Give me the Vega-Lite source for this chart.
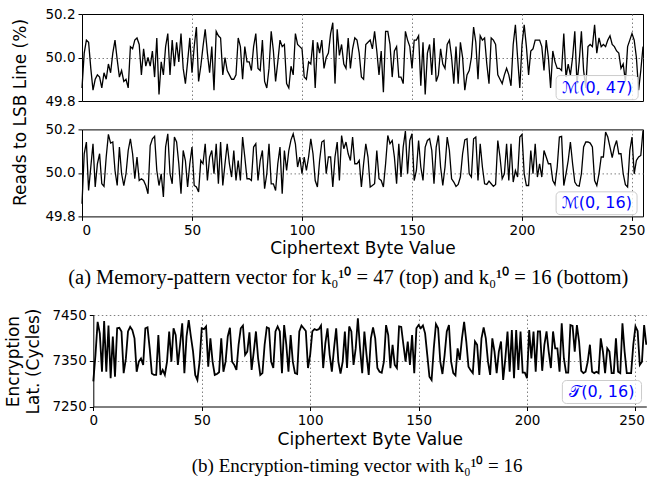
{
"$schema": "https://vega.github.io/schema/vega-lite/v6.json",
"padding": {"left": 4, "top": 6, "right": 0, "bottom": 0},
"background": "white",
"config": {
 "font": "DejaVu Sans",
 "view": {"stroke": "black", "strokeWidth": 1},
 "axis": {"labelFont": "DejaVu Sans", "titleFont": "DejaVu Sans", "labelFontSize": 13.5, "titleFontSize": 17, "titleFontWeight": "normal", "labelColor": "black", "titleColor": "black", "tickColor": "black", "domainColor": "black", "tickSize": 4, "labelPadding": 3, "gridColor": "#808080", "gridDash": [1.5, 2.5], "gridWidth": 1}
},
"datasets": {
"m47": [{"x":0,"y":49.86},{"x":1,"y":50.02},{"x":2,"y":50.08},{"x":3,"y":50.07},{"x":4,"y":49.95},{"x":5,"y":49.85},{"x":6,"y":49.90},{"x":7,"y":49.92},{"x":8,"y":49.91},{"x":9,"y":49.86},{"x":10,"y":49.93},{"x":11,"y":49.90},{"x":12,"y":49.97},{"x":13,"y":49.93},{"x":14,"y":50.02},{"x":15,"y":50.08},{"x":16,"y":49.99},{"x":17,"y":49.91},{"x":18,"y":49.94},{"x":19,"y":49.89},{"x":20,"y":49.90},{"x":21,"y":49.86},{"x":22,"y":50.05},{"x":23,"y":50.04},{"x":24,"y":50.08},{"x":25,"y":50.09},{"x":26,"y":50.06},{"x":27,"y":49.92},{"x":28,"y":50.04},{"x":29,"y":49.96},{"x":30,"y":50.00},{"x":31,"y":49.96},{"x":32,"y":50.03},{"x":33,"y":49.91},{"x":34,"y":50.09},{"x":35,"y":49.83},{"x":36,"y":49.98},{"x":37,"y":49.92},{"x":38,"y":50.05},{"x":39,"y":50.11},{"x":40,"y":49.92},{"x":41,"y":50.08},{"x":42,"y":49.96},{"x":43,"y":50.07},{"x":44,"y":49.98},{"x":45,"y":50.11},{"x":46,"y":49.95},{"x":47,"y":49.88},{"x":48,"y":49.98},{"x":49,"y":50.09},{"x":50,"y":49.93},{"x":51,"y":50.05},{"x":52,"y":50.14},{"x":53,"y":49.89},{"x":54,"y":49.96},{"x":55,"y":50.05},{"x":56,"y":50.13},{"x":57,"y":50.02},{"x":58,"y":49.93},{"x":59,"y":50.05},{"x":60,"y":49.85},{"x":61,"y":50.12},{"x":62,"y":50.10},{"x":63,"y":50.09},{"x":64,"y":49.92},{"x":65,"y":50.00},{"x":66,"y":49.94},{"x":67,"y":49.92},{"x":68,"y":49.90},{"x":69,"y":49.90},{"x":70,"y":49.92},{"x":71,"y":50.09},{"x":72,"y":50.05},{"x":73,"y":49.90},{"x":74,"y":50.05},{"x":75,"y":49.98},{"x":76,"y":49.98},{"x":77,"y":49.94},{"x":78,"y":50.05},{"x":79,"y":50.11},{"x":80,"y":49.95},{"x":81,"y":49.94},{"x":82,"y":50.08},{"x":83,"y":49.89},{"x":84,"y":49.86},{"x":85,"y":49.95},{"x":86,"y":50.12},{"x":87,"y":50.03},{"x":88,"y":49.89},{"x":89,"y":49.98},{"x":90,"y":50.08},{"x":91,"y":50.05},{"x":92,"y":50.06},{"x":93,"y":49.88},{"x":94,"y":49.86},{"x":95,"y":49.96},{"x":96,"y":49.92},{"x":97,"y":50.11},{"x":98,"y":50.06},{"x":99,"y":50.05},{"x":100,"y":50.04},{"x":101,"y":49.91},{"x":102,"y":49.90},{"x":103,"y":49.98},{"x":104,"y":49.97},{"x":105,"y":50.08},{"x":106,"y":49.86},{"x":107,"y":50.07},{"x":108,"y":50.02},{"x":109,"y":50.08},{"x":110,"y":49.95},{"x":111,"y":50.00},{"x":112,"y":50.02},{"x":113,"y":50.11},{"x":114,"y":50.16},{"x":115,"y":49.88},{"x":116,"y":50.13},{"x":117,"y":50.01},{"x":118,"y":50.06},{"x":119,"y":49.97},{"x":120,"y":49.95},{"x":121,"y":50.09},{"x":122,"y":49.95},{"x":123,"y":50.04},{"x":124,"y":50.09},{"x":125,"y":50.08},{"x":126,"y":50.02},{"x":127,"y":49.91},{"x":128,"y":49.90},{"x":129,"y":50.06},{"x":130,"y":50.07},{"x":131,"y":50.08},{"x":132,"y":50.04},{"x":133,"y":50.12},{"x":134,"y":50.03},{"x":135,"y":49.92},{"x":136,"y":50.03},{"x":137,"y":49.84},{"x":138,"y":50.12},{"x":139,"y":50.12},{"x":140,"y":50.06},{"x":141,"y":49.91},{"x":142,"y":50.03},{"x":143,"y":50.05},{"x":144,"y":49.91},{"x":145,"y":49.91},{"x":146,"y":49.88},{"x":147,"y":50.12},{"x":148,"y":50.08},{"x":149,"y":50.05},{"x":150,"y":49.95},{"x":151,"y":50.08},{"x":152,"y":50.08},{"x":153,"y":50.10},{"x":154,"y":49.87},{"x":155,"y":50.07},{"x":156,"y":49.83},{"x":157,"y":50.02},{"x":158,"y":50.06},{"x":159,"y":49.92},{"x":160,"y":50.09},{"x":161,"y":49.89},{"x":162,"y":49.92},{"x":163,"y":50.04},{"x":164,"y":49.97},{"x":165,"y":49.95},{"x":166,"y":50.06},{"x":167,"y":50.08},{"x":168,"y":50.00},{"x":169,"y":49.88},{"x":170,"y":50.05},{"x":171,"y":49.88},{"x":172,"y":50.07},{"x":173,"y":50.00},{"x":174,"y":49.85},{"x":175,"y":49.92},{"x":176,"y":49.94},{"x":177,"y":50.00},{"x":178,"y":50.14},{"x":179,"y":50.07},{"x":180,"y":49.90},{"x":181,"y":50.10},{"x":182,"y":50.08},{"x":183,"y":50.09},{"x":184,"y":49.97},{"x":185,"y":49.88},{"x":186,"y":50.09},{"x":187,"y":50.08},{"x":188,"y":50.06},{"x":189,"y":49.92},{"x":190,"y":49.90},{"x":191,"y":49.88},{"x":192,"y":49.92},{"x":193,"y":49.95},{"x":194,"y":49.92},{"x":195,"y":49.87},{"x":196,"y":50.06},{"x":197,"y":50.15},{"x":198,"y":50.00},{"x":199,"y":49.86},{"x":200,"y":50.06},{"x":201,"y":50.15},{"x":202,"y":50.05},{"x":203,"y":49.92},{"x":204,"y":50.03},{"x":205,"y":50.04},{"x":206,"y":50.08},{"x":207,"y":50.08},{"x":208,"y":50.08},{"x":209,"y":50.05},{"x":210,"y":49.94},{"x":211,"y":50.08},{"x":212,"y":50.00},{"x":213,"y":49.86},{"x":214,"y":50.03},{"x":215,"y":49.98},{"x":216,"y":49.95},{"x":217,"y":49.95},{"x":218,"y":49.94},{"x":219,"y":50.11},{"x":220,"y":49.91},{"x":221,"y":49.97},{"x":222,"y":49.92},{"x":223,"y":50.00},{"x":224,"y":50.12},{"x":225,"y":49.88},{"x":226,"y":49.98},{"x":227,"y":50.12},{"x":228,"y":49.94},{"x":229,"y":49.86},{"x":230,"y":50.05},{"x":231,"y":50.06},{"x":232,"y":50.05},{"x":233,"y":50.15},{"x":234,"y":50.02},{"x":235,"y":50.09},{"x":236,"y":50.05},{"x":237,"y":50.06},{"x":238,"y":50.05},{"x":239,"y":50.08},{"x":240,"y":50.10},{"x":241,"y":50.06},{"x":242,"y":50.05},{"x":243,"y":50.03},{"x":244,"y":50.02},{"x":245,"y":49.95},{"x":246,"y":49.97},{"x":247,"y":49.89},{"x":248,"y":50.05},{"x":249,"y":50.08},{"x":250,"y":50.11},{"x":251,"y":50.08},{"x":252,"y":50.00},{"x":253,"y":49.85},{"x":254,"y":49.94},{"x":255,"y":50.05}],
"m16": [{"x":0,"y":49.858},{"x":1,"y":50.088},{"x":2,"y":50.142},{"x":3,"y":49.919},{"x":4,"y":50.027},{"x":5,"y":50.134},{"x":6,"y":49.935},{"x":7,"y":50.042},{"x":8,"y":50.088},{"x":9,"y":49.950},{"x":10,"y":49.938},{"x":11,"y":50.073},{"x":12,"y":50.177},{"x":13,"y":50.137},{"x":14,"y":50.142},{"x":15,"y":50.011},{"x":16,"y":49.942},{"x":17,"y":50.119},{"x":18,"y":49.996},{"x":19,"y":49.942},{"x":20,"y":49.996},{"x":21,"y":50.103},{"x":22,"y":50.157},{"x":23,"y":50.088},{"x":24,"y":49.973},{"x":25,"y":50.073},{"x":26,"y":49.965},{"x":27,"y":49.973},{"x":28,"y":49.965},{"x":29,"y":49.942},{"x":30,"y":49.904},{"x":31,"y":50.126},{"x":32,"y":50.157},{"x":33,"y":50.168},{"x":34,"y":50.011},{"x":35,"y":49.942},{"x":36,"y":49.996},{"x":37,"y":49.889},{"x":38,"y":50.119},{"x":39,"y":50.180},{"x":40,"y":49.996},{"x":41,"y":49.950},{"x":42,"y":50.165},{"x":43,"y":50.142},{"x":44,"y":50.042},{"x":45,"y":49.904},{"x":46,"y":50.103},{"x":47,"y":50.057},{"x":48,"y":49.935},{"x":49,"y":50.042},{"x":50,"y":50.119},{"x":51,"y":49.942},{"x":52,"y":49.935},{"x":53,"y":49.912},{"x":54,"y":50.057},{"x":55,"y":50.042},{"x":56,"y":50.134},{"x":57,"y":49.965},{"x":58,"y":50.073},{"x":59,"y":50.103},{"x":60,"y":49.996},{"x":61,"y":50.134},{"x":62,"y":49.950},{"x":63,"y":50.142},{"x":64,"y":49.942},{"x":65,"y":50.042},{"x":66,"y":50.134},{"x":67,"y":50.042},{"x":68,"y":49.981},{"x":69,"y":50.103},{"x":70,"y":49.965},{"x":71,"y":50.057},{"x":72,"y":49.965},{"x":73,"y":50.165},{"x":74,"y":50.073},{"x":75,"y":49.973},{"x":76,"y":49.973},{"x":77,"y":49.965},{"x":78,"y":50.119},{"x":79,"y":50.134},{"x":80,"y":49.965},{"x":81,"y":50.057},{"x":82,"y":50.103},{"x":83,"y":49.927},{"x":84,"y":49.996},{"x":85,"y":50.134},{"x":86,"y":49.950},{"x":87,"y":49.950},{"x":88,"y":49.919},{"x":89,"y":50.042},{"x":90,"y":50.119},{"x":91,"y":49.904},{"x":92,"y":50.103},{"x":93,"y":50.011},{"x":94,"y":50.103},{"x":95,"y":50.152},{"x":96,"y":50.180},{"x":97,"y":50.134},{"x":98,"y":50.027},{"x":99,"y":50.073},{"x":100,"y":49.996},{"x":101,"y":50.073},{"x":102,"y":50.011},{"x":103,"y":50.073},{"x":104,"y":50.157},{"x":105,"y":50.088},{"x":106,"y":49.965},{"x":107,"y":49.935},{"x":108,"y":50.057},{"x":109,"y":50.142},{"x":110,"y":50.149},{"x":111,"y":49.996},{"x":112,"y":50.073},{"x":113,"y":50.073},{"x":114,"y":49.935},{"x":115,"y":50.073},{"x":116,"y":50.142},{"x":117,"y":49.965},{"x":118,"y":50.172},{"x":119,"y":50.111},{"x":120,"y":50.142},{"x":121,"y":50.088},{"x":122,"y":50.057},{"x":123,"y":50.165},{"x":124,"y":50.042},{"x":125,"y":50.042},{"x":126,"y":50.057},{"x":127,"y":49.935},{"x":128,"y":50.042},{"x":129,"y":50.134},{"x":130,"y":50.073},{"x":131,"y":49.935},{"x":132,"y":49.942},{"x":133,"y":49.950},{"x":134,"y":50.103},{"x":135,"y":49.973},{"x":136,"y":49.965},{"x":137,"y":49.935},{"x":138,"y":50.042},{"x":139,"y":50.172},{"x":140,"y":50.134},{"x":141,"y":50.149},{"x":142,"y":50.073},{"x":143,"y":49.950},{"x":144,"y":50.134},{"x":145,"y":49.981},{"x":146,"y":50.119},{"x":147,"y":50.192},{"x":148,"y":49.996},{"x":149,"y":50.149},{"x":150,"y":50.180},{"x":151,"y":49.965},{"x":152,"y":50.011},{"x":153,"y":50.149},{"x":154,"y":50.027},{"x":155,"y":49.965},{"x":156,"y":50.119},{"x":157,"y":50.149},{"x":158,"y":50.157},{"x":159,"y":50.103},{"x":160,"y":49.950},{"x":161,"y":50.119},{"x":162,"y":50.172},{"x":163,"y":50.027},{"x":164,"y":49.942},{"x":165,"y":50.027},{"x":166,"y":50.165},{"x":167,"y":50.103},{"x":168,"y":49.973},{"x":169,"y":49.958},{"x":170,"y":49.938},{"x":171,"y":49.947},{"x":172,"y":49.981},{"x":173,"y":50.088},{"x":174,"y":50.152},{"x":175,"y":50.157},{"x":176,"y":49.996},{"x":177,"y":49.981},{"x":178,"y":50.157},{"x":179,"y":50.165},{"x":180,"y":49.965},{"x":181,"y":50.134},{"x":182,"y":50.027},{"x":183,"y":49.950},{"x":184,"y":49.947},{"x":185,"y":49.962},{"x":186,"y":49.950},{"x":187,"y":49.938},{"x":188,"y":49.947},{"x":189,"y":50.149},{"x":190,"y":50.073},{"x":191,"y":49.973},{"x":192,"y":49.996},{"x":193,"y":50.134},{"x":194,"y":49.965},{"x":195,"y":50.134},{"x":196,"y":49.958},{"x":197,"y":50.011},{"x":198,"y":49.981},{"x":199,"y":50.165},{"x":200,"y":50.177},{"x":201,"y":49.996},{"x":202,"y":49.942},{"x":203,"y":49.942},{"x":204,"y":50.103},{"x":205,"y":49.996},{"x":206,"y":50.134},{"x":207,"y":49.981},{"x":208,"y":50.042},{"x":209,"y":49.981},{"x":210,"y":50.103},{"x":211,"y":50.073},{"x":212,"y":50.042},{"x":213,"y":50.042},{"x":214,"y":49.965},{"x":215,"y":49.946},{"x":216,"y":50.027},{"x":217,"y":50.165},{"x":218,"y":50.168},{"x":219,"y":49.942},{"x":220,"y":49.996},{"x":221,"y":50.057},{"x":222,"y":50.142},{"x":223,"y":50.042},{"x":224,"y":49.958},{"x":225,"y":49.942},{"x":226,"y":49.939},{"x":227,"y":49.996},{"x":228,"y":50.119},{"x":229,"y":50.142},{"x":230,"y":50.142},{"x":231,"y":50.137},{"x":232,"y":50.119},{"x":233,"y":49.965},{"x":234,"y":49.942},{"x":235,"y":49.996},{"x":236,"y":50.073},{"x":237,"y":50.073},{"x":238,"y":50.188},{"x":239,"y":50.165},{"x":240,"y":50.119},{"x":241,"y":50.070},{"x":242,"y":50.119},{"x":243,"y":50.149},{"x":244,"y":50.088},{"x":245,"y":50.088},{"x":246,"y":49.996},{"x":247,"y":49.946},{"x":248,"y":49.935},{"x":249,"y":50.103},{"x":250,"y":50.165},{"x":251,"y":49.996},{"x":252,"y":50.057},{"x":253,"y":50.073},{"x":254,"y":50.080},{"x":255,"y":50.195}],
"t16": [{"x":0,"y":7305},{"x":1,"y":7363},{"x":2,"y":7435},{"x":3,"y":7410},{"x":4,"y":7326},{"x":5,"y":7437},{"x":6,"y":7326},{"x":7,"y":7427},{"x":8,"y":7312},{"x":9,"y":7403},{"x":10,"y":7315},{"x":11,"y":7421},{"x":12,"y":7422},{"x":13,"y":7414},{"x":14,"y":7323},{"x":15,"y":7354},{"x":16,"y":7414},{"x":17,"y":7424},{"x":18,"y":7417},{"x":19,"y":7399},{"x":20,"y":7326},{"x":21,"y":7348},{"x":22,"y":7355},{"x":23,"y":7341},{"x":24,"y":7421},{"x":25,"y":7423},{"x":26,"y":7377},{"x":27,"y":7322},{"x":28,"y":7319},{"x":29,"y":7319},{"x":30,"y":7406},{"x":31,"y":7319},{"x":32,"y":7330},{"x":33,"y":7319},{"x":34,"y":7348},{"x":35,"y":7414},{"x":36,"y":7348},{"x":37,"y":7421},{"x":38,"y":7406},{"x":39,"y":7341},{"x":40,"y":7385},{"x":41,"y":7432},{"x":42,"y":7323},{"x":43,"y":7403},{"x":44,"y":7439},{"x":45,"y":7403},{"x":46,"y":7370},{"x":47,"y":7319},{"x":48,"y":7308},{"x":49,"y":7348},{"x":50,"y":7421},{"x":51,"y":7419},{"x":52,"y":7425},{"x":53,"y":7337},{"x":54,"y":7399},{"x":55,"y":7348},{"x":56,"y":7319},{"x":57,"y":7321},{"x":58,"y":7325},{"x":59,"y":7399},{"x":60,"y":7326},{"x":61,"y":7348},{"x":62,"y":7403},{"x":63,"y":7422},{"x":64,"y":7348},{"x":65,"y":7341},{"x":66,"y":7330},{"x":67,"y":7385},{"x":68,"y":7421},{"x":69,"y":7427},{"x":70,"y":7363},{"x":71,"y":7370},{"x":72,"y":7412},{"x":73,"y":7330},{"x":74,"y":7370},{"x":75,"y":7414},{"x":76,"y":7355},{"x":77,"y":7319},{"x":78,"y":7323},{"x":79,"y":7385},{"x":80,"y":7423},{"x":81,"y":7421},{"x":82,"y":7348},{"x":83,"y":7334},{"x":84,"y":7414},{"x":85,"y":7425},{"x":86,"y":7414},{"x":87,"y":7323},{"x":88,"y":7428},{"x":89,"y":7385},{"x":90,"y":7326},{"x":91,"y":7406},{"x":92,"y":7348},{"x":93,"y":7323},{"x":94,"y":7321},{"x":95,"y":7414},{"x":96,"y":7427},{"x":97,"y":7421},{"x":98,"y":7415},{"x":99,"y":7334},{"x":100,"y":7363},{"x":101,"y":7414},{"x":102,"y":7419},{"x":103,"y":7417},{"x":104,"y":7419},{"x":105,"y":7427},{"x":106,"y":7334},{"x":107,"y":7388},{"x":108,"y":7421},{"x":109,"y":7363},{"x":110,"y":7326},{"x":111,"y":7377},{"x":112,"y":7421},{"x":113,"y":7348},{"x":114,"y":7322},{"x":115,"y":7348},{"x":116,"y":7414},{"x":117,"y":7334},{"x":118,"y":7425},{"x":119,"y":7414},{"x":120,"y":7341},{"x":121,"y":7377},{"x":122,"y":7443},{"x":123,"y":7377},{"x":124,"y":7323},{"x":125,"y":7414},{"x":126,"y":7363},{"x":127,"y":7319},{"x":128,"y":7399},{"x":129,"y":7423},{"x":130,"y":7399},{"x":131,"y":7334},{"x":132,"y":7326},{"x":133,"y":7324},{"x":134,"y":7348},{"x":135,"y":7428},{"x":136,"y":7406},{"x":137,"y":7334},{"x":138,"y":7385},{"x":139,"y":7341},{"x":140,"y":7334},{"x":141,"y":7425},{"x":142,"y":7424},{"x":143,"y":7385},{"x":144,"y":7348},{"x":145,"y":7392},{"x":146,"y":7341},{"x":147,"y":7406},{"x":148,"y":7323},{"x":149,"y":7421},{"x":150,"y":7428},{"x":151,"y":7421},{"x":152,"y":7427},{"x":153,"y":7410},{"x":154,"y":7363},{"x":155,"y":7315},{"x":156,"y":7308},{"x":157,"y":7377},{"x":158,"y":7430},{"x":159,"y":7421},{"x":160,"y":7348},{"x":161,"y":7321},{"x":162,"y":7363},{"x":163,"y":7414},{"x":164,"y":7428},{"x":165,"y":7348},{"x":166,"y":7323},{"x":167,"y":7318},{"x":168,"y":7377},{"x":169,"y":7352},{"x":170,"y":7399},{"x":171,"y":7435},{"x":172,"y":7392},{"x":173,"y":7337},{"x":174,"y":7329},{"x":175,"y":7323},{"x":176,"y":7392},{"x":177,"y":7385},{"x":178,"y":7319},{"x":179,"y":7399},{"x":180,"y":7423},{"x":181,"y":7399},{"x":182,"y":7348},{"x":183,"y":7319},{"x":184,"y":7399},{"x":185,"y":7370},{"x":186,"y":7323},{"x":187,"y":7370},{"x":188,"y":7392},{"x":189,"y":7308},{"x":190,"y":7355},{"x":191,"y":7414},{"x":192,"y":7326},{"x":193,"y":7417},{"x":194,"y":7312},{"x":195,"y":7417},{"x":196,"y":7330},{"x":197,"y":7414},{"x":198,"y":7324},{"x":199,"y":7324},{"x":200,"y":7312},{"x":201,"y":7417},{"x":202,"y":7355},{"x":203,"y":7414},{"x":204,"y":7326},{"x":205,"y":7414},{"x":206,"y":7414},{"x":207,"y":7328},{"x":208,"y":7385},{"x":209,"y":7414},{"x":210,"y":7370},{"x":211,"y":7334},{"x":212,"y":7414},{"x":213,"y":7377},{"x":214,"y":7377},{"x":215,"y":7326},{"x":216,"y":7432},{"x":217,"y":7355},{"x":218,"y":7324},{"x":219,"y":7324},{"x":220,"y":7428},{"x":221,"y":7426},{"x":222,"y":7370},{"x":223,"y":7428},{"x":224,"y":7392},{"x":225,"y":7328},{"x":226,"y":7323},{"x":227,"y":7326},{"x":228,"y":7348},{"x":229,"y":7385},{"x":230,"y":7326},{"x":231,"y":7323},{"x":232,"y":7326},{"x":233,"y":7323},{"x":234,"y":7399},{"x":235,"y":7370},{"x":236,"y":7323},{"x":237,"y":7377},{"x":238,"y":7370},{"x":239,"y":7323},{"x":240,"y":7323},{"x":241,"y":7399},{"x":242,"y":7326},{"x":243,"y":7323},{"x":244,"y":7432},{"x":245,"y":7370},{"x":246,"y":7323},{"x":247,"y":7323},{"x":248,"y":7323},{"x":249,"y":7385},{"x":250,"y":7425},{"x":251,"y":7415},{"x":252,"y":7341},{"x":253,"y":7348},{"x":254,"y":7428},{"x":255,"y":7385}],
"lab47": [{"label": "ℳ(0, 47)"}],
"lab16": [{"label": "ℳ(0, 16)"}],
"labT": [{"label": "𝒯(0, 16)"}]
},
"concat": [
 {
  "vconcat": [
   {
    "width": 561, "height": 87,
    "layer": [
     {"data": {"name": "m47"},
      "mark": {"type": "line", "color": "black", "strokeWidth": 1.3},
      "encoding": {
       "x": {"field": "x", "type": "quantitative", "scale": {"domain": [0, 255], "nice": false, "zero": false},
             "axis": {"values": [50, 100, 150, 200, 250], "labels": false, "ticks": false, "domain": false, "title": null, "grid": true}},
       "y": {"field": "y", "type": "quantitative", "scale": {"domain": [49.8, 50.2], "nice": false, "zero": false},
             "axis": {"values": [49.8, 50.0, 50.2], "format": ".1f", "title": "Reads to LSB Line (%)", "titleX": -62, "titleY": 98, "titleBaseline": "middle", "titleAlign": "center", "titleAngle": -90, "domain": false, "grid": true,
                      "gridOpacity": {"condition": {"test": "datum.value == 50", "value": 1}, "value": 0}}}
      }},
     {"data": {"name": "lab47"},
      "mark": {"type": "rect", "fill": "white", "fillOpacity": 0.8, "stroke": "#cccccc", "strokeWidth": 1, "cornerRadius": 4},
      "encoding": {"x": {"datum": 215.5}, "x2": {"datum": 252.8}, "y": {"datum": 49.806}, "y2": {"datum": 49.917}}},
     {"data": {"name": "lab47"},
      "mark": {"type": "text", "color": "#0000ff", "fontSize": 16, "font": "DejaVu Sans", "align": "center", "baseline": "middle"},
      "encoding": {"x": {"datum": 234.2}, "y": {"datum": 49.862}, "text": {"field": "label"}}}
    ]
   },
   {
    "width": 561, "height": 87,
    "layer": [
     {"data": {"name": "m16"},
      "mark": {"type": "line", "color": "black", "strokeWidth": 1.3},
      "encoding": {
       "x": {"field": "x", "type": "quantitative", "scale": {"domain": [0, 255], "nice": false, "zero": false},
             "axis": {"values": [0, 50, 100, 150, 200, 250], "title": "Ciphertext Byte Value", "domain": false, "grid": true,
                      "gridOpacity": {"condition": {"test": "datum.value > 0", "value": 1}, "value": 0}}},
       "y": {"field": "y", "type": "quantitative", "scale": {"domain": [49.8, 50.2], "nice": false, "zero": false},
             "axis": {"values": [49.8, 50.0, 50.2], "format": ".1f", "title": null, "domain": false, "grid": true,
                      "gridOpacity": {"condition": {"test": "datum.value == 50", "value": 1}, "value": 0}}}
      }},
     {"data": {"name": "lab16"},
      "mark": {"type": "rect", "fill": "white", "fillOpacity": 0.8, "stroke": "#cccccc", "strokeWidth": 1, "cornerRadius": 4},
      "encoding": {"x": {"datum": 215.5}, "x2": {"datum": 252.3}, "y": {"datum": 49.808}, "y2": {"datum": 49.913}}},
     {"data": {"name": "lab16"},
      "mark": {"type": "text", "color": "#0000ff", "fontSize": 16, "font": "DejaVu Sans", "align": "center", "baseline": "middle"},
      "encoding": {"x": {"datum": 234}, "y": {"datum": 49.861}, "text": {"field": "label"}}}
    ]
   }
  ],
  "spacing": 28.4,
  "bounds": "flush",
  "title": {"text": "(a) Memory-pattern vector for k₀¹⁰ = 47 (top) and k₀¹⁰ = 16 (bottom)", "orient": "bottom", "anchor": "middle", "dx": 20, "font": "Liberation Serif", "fontSize": 20.5, "fontWeight": "normal", "color": "black", "offset": 10.5}
 },
 {
  "width": 564.3, "height": 91.5,
  "view": {"stroke": null},
  "title": {"text": "(b) Encryption-timing vector with k₀¹⁰ = 16", "orient": "bottom", "anchor": "middle", "frame": "group", "dx": -7, "font": "Liberation Serif", "fontSize": 19, "fontWeight": "normal", "color": "black", "offset": 10}
  ,
  "layer": [
   {"data": {"name": "t16"},
    "mark": {"type": "line", "color": "black", "strokeWidth": 1.8},
    "encoding": {
     "x": {"field": "x", "type": "quantitative", "scale": {"domain": [0, 255], "range": [11.3, 564.3], "nice": false, "zero": false},
           "axis": {"values": [0, 50, 100, 150, 200, 250], "title": "Ciphertext Byte Value", "domain": true, "grid": true,
                    "labelAlign": {"condition": {"test": "datum.value == 250", "value": "right"}, "value": "center"},
                    "labelOffset": {"condition": {"test": "datum.value == 250", "value": 9}, "value": 0},
                    "gridOpacity": {"condition": {"test": "datum.value > 0", "value": 1}, "value": 0}}},
     "y": {"field": "y", "type": "quantitative", "scale": {"domain": [7250, 7450], "nice": false, "zero": false},
           "axis": {"values": [7250, 7350, 7450], "format": "d", "offset": -11.3, "title": ["Encryption", "Lat. (Cycles)"], "titleLineHeight": 20, "titleX": -80, "titleY": 46, "titleBaseline": "middle", "titleAlign": "center", "titleAngle": -90, "domain": true, "grid": true,
                    "gridOpacity": {"condition": {"test": "datum.value > 7250", "value": 1}, "value": 0}}}
    }},
   {"data": {"name": "labT"},
    "mark": {"type": "rect", "fill": "white", "fillOpacity": 0.8, "stroke": "#cccccc", "strokeWidth": 1, "cornerRadius": 4},
    "encoding": {"x": {"datum": 216.3}, "x2": {"datum": 252.8}, "y": {"datum": 7256.6}, "y2": {"datum": 7306.8}}},
   {"data": {"name": "labT"},
    "mark": {"type": "text", "color": "#0000ff", "fontSize": 16, "font": "DejaVu Sans", "align": "center", "baseline": "middle"},
    "encoding": {"x": {"datum": 234.5}, "y": {"datum": 7282}, "text": {"field": "label"}}}
  ]
 }
],
"columns": 1,
"align": "none",
"spacing": 19
}
